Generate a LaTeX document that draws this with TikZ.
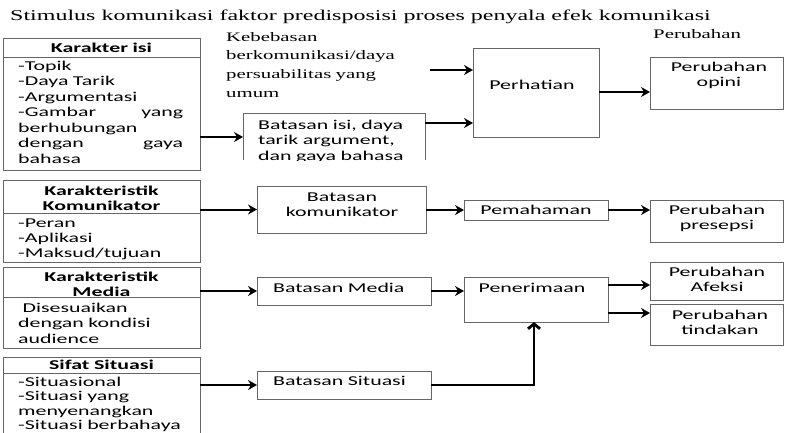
\documentclass[tikz,border=0pt]{standalone}
\usepackage{fontspec}
\newfontfamily\bodyf[FakeStretch=1.62]{Carlito}
\newfontfamily\serf[FakeStretch=1.6]{Liberation Serif}
\usetikzlibrary{arrows.meta,calc}
\newcommand\mybox[6][box]{\node[#1, inner sep=0pt, outer sep=0pt, anchor=north west, minimum width={(#4-#2)*1pt}, minimum height={(#5-#3)*1pt}] (#6) at (#2,#3) {};}
\begin{document}
\begin{tikzpicture}[x=1pt,y=-1pt,
 box/.style={draw=black!60, line width=0.8pt},
 nobox/.style={},
 arr/.style={draw=black, line width=2pt, -{Stealth[length=9pt,width=10pt,inset=3pt]}},
 bigarr/.style={draw=black, line width=2.8pt, -{Straight Barb[length=5pt,width=12pt]}},
 bt/.style={font=\bodyf\fontsize{13.5}{15.5}\selectfont, inner sep=0pt, text width=170pt, align=left, anchor=base west},
 ct/.style={font=\bodyf\fontsize{13.5}{15}\selectfont, inner sep=0pt, text width=170pt, align=center, anchor=base},
 hd/.style={font=\bodyf\bfseries\fontsize{13.5}{15}\selectfont, inner sep=0pt, text width=190pt, align=center, anchor=base},
 sf/.style={font=\serf\fontsize{13}{18.7}\selectfont, inner sep=0pt},
]
\useasboundingbox (0,0) rectangle (785,432);

% title and free labels
\node[font=\serf\fontsize{15}{18}\selectfont, anchor=base west, inner sep=0pt] (title) at (10,20) {Stimulus komunikasi faktor predisposisi proses penyala efek komunikasi};
\node[sf, anchor=base west, text width=200pt, align=left] (kb) at (226,41) {Kebebasan\\berkomunikasi/daya\\persuabilitas yang\\umum};
\node[sf, anchor=base west] (pl) at (653,38) {Perubahan};

% left boxes
\mybox{3}{38}{200}{170}{ki}
\coordinate (h1) at (0,57);
\draw[box] (ki.west |- h1) -- (ki.east |- h1);
\node[hd] (kit) at (101.5,52) {Karakter isi};
\node[bt] (kib) at (18,70) {-Topik\\-Daya Tarik\\-Argumentasi\\\makebox[165pt]{-Gambar\hfill yang}\\berhubungan\\\makebox[165pt]{dengan\hfill gaya}\\bahasa};

\mybox{3}{180}{200}{262}{kk}
\coordinate (h2) at (0,213);
\draw[box] (kk.west |- h2) -- (kk.east |- h2);
\node[hd] (kkt) at (101.5,195) {Karakteristik\\Komunikator};
\node[bt, font=\bodyf\fontsize{13.5}{15}\selectfont] (kkb) at (18,227) {-Peran\\-Aplikasi\\-Maksud/tujuan};

\mybox{3}{267}{200}{348}{km}
\coordinate (h3) at (0,297);
\draw[box] (km.west |- h3) -- (km.east |- h3);
\node[hd] (kmt) at (101.5,281) {Karakteristik\\Media};
\node[bt] (kmb) at (18,312) {\ Disesuaikan\\dengan kondisi\\audience};

\mybox{3}{357}{200}{450}{ss}
\coordinate (h4) at (0,373);
\draw[box] (ss.west |- h4) -- (ss.east |- h4);
\node[hd] (sst) at (101.5,369) {Sifat Situasi};
\node[bt, font=\bodyf\fontsize{13.5}{14.5}\selectfont] (ssb) at (18,386) {-Situasional\\-Situasi yang\\menyenangkan\\-Situasi berbahaya};

% middle boxes
\mybox[nobox]{243}{113}{425}{160}{bi}
\draw[box] (bi.south west) -- (bi.north west) -- (bi.north east) -- (bi.south east);
\begin{scope}
\clip (bi.north west) rectangle (bi.south east);
\node[bt] (bit) at (258,129) {Batasan isi, daya\\tarik argument,\\dan gaya bahasa};
\end{scope}

\mybox{473}{48}{599}{137}{ph}
\node[ct] (pht) at (532,89) {Perhatian};

\mybox{650}{57}{783}{109}{po}
\node[ct] (pot) at (719,71) {Perubahan\\opini};

\mybox{257}{186}{426}{233}{bk}
\node[ct] (bkt) at (342,201) {Batasan\\komunikator};

\mybox{464}{200}{608}{220}{pm}
\node[ct] (pmt) at (536,214) {Pemahaman};

\mybox{650}{200}{783}{242}{pp}
\node[ct] (ppt) at (717,214) {Perubahan\\presepsi};

\mybox{257}{277}{431}{305}{bm}
\node[bt] (bmt) at (273,292) {Batasan Media};

\mybox{464}{277}{608}{322}{pn}
\node[ct] (pnt) at (532,292) {Penerimaan};

\mybox{650}{262}{783}{300}{pa}
\node[ct] (pat) at (717,276) {Perubahan\\Afeksi};

\mybox{650}{304}{783}{345}{pt}
\node[ct] (ptt) at (720,319) {Perubahan\\tindakan};

\mybox{257}{371}{431}{399}{bs}
\node[bt] (bst) at (273,385) {Batasan Situasi};

% connectors
\coordinate (a1) at (0,137);
\draw[arr] (ki.east |- a1) -- (bi.west |- a1);
\coordinate (a2s) at (430,70);
\draw[arr] (a2s) -- (ph.west |- a2s);
\coordinate (a3) at (0,123);
\draw[arr] (bi.east |- a3) -- (ph.west |- a3);
\coordinate (a4) at (0,92);
\draw[arr] (ph.east |- a4) -- (po.west |- a4);
\draw[arr] (kk.east |- bk.west) -- (bk.west);
\draw[arr] (bk.east |- pm.west) -- (pm.west);
\draw[arr] (pm.east) -- (pp.west |- pm.east);
\draw[arr] (km.east |- bm.west) -- (bm.west);
\draw[arr] (bm.east) -- (pn.west |- bm.east);
\coordinate (a5) at (0,285);
\draw[arr] (pn.east |- a5) -- (pa.west |- a5);
\coordinate (a6) at (0,313);
\draw[arr] (pn.east |- a6) -- (pt.west |- a6);
\draw[arr] (ss.east |- bs.west) -- (bs.west);
\coordinate (a7) at (534,0);
\draw[bigarr] (bs.east) -| (a7 |- pn.south);
\end{tikzpicture}
\end{document}
